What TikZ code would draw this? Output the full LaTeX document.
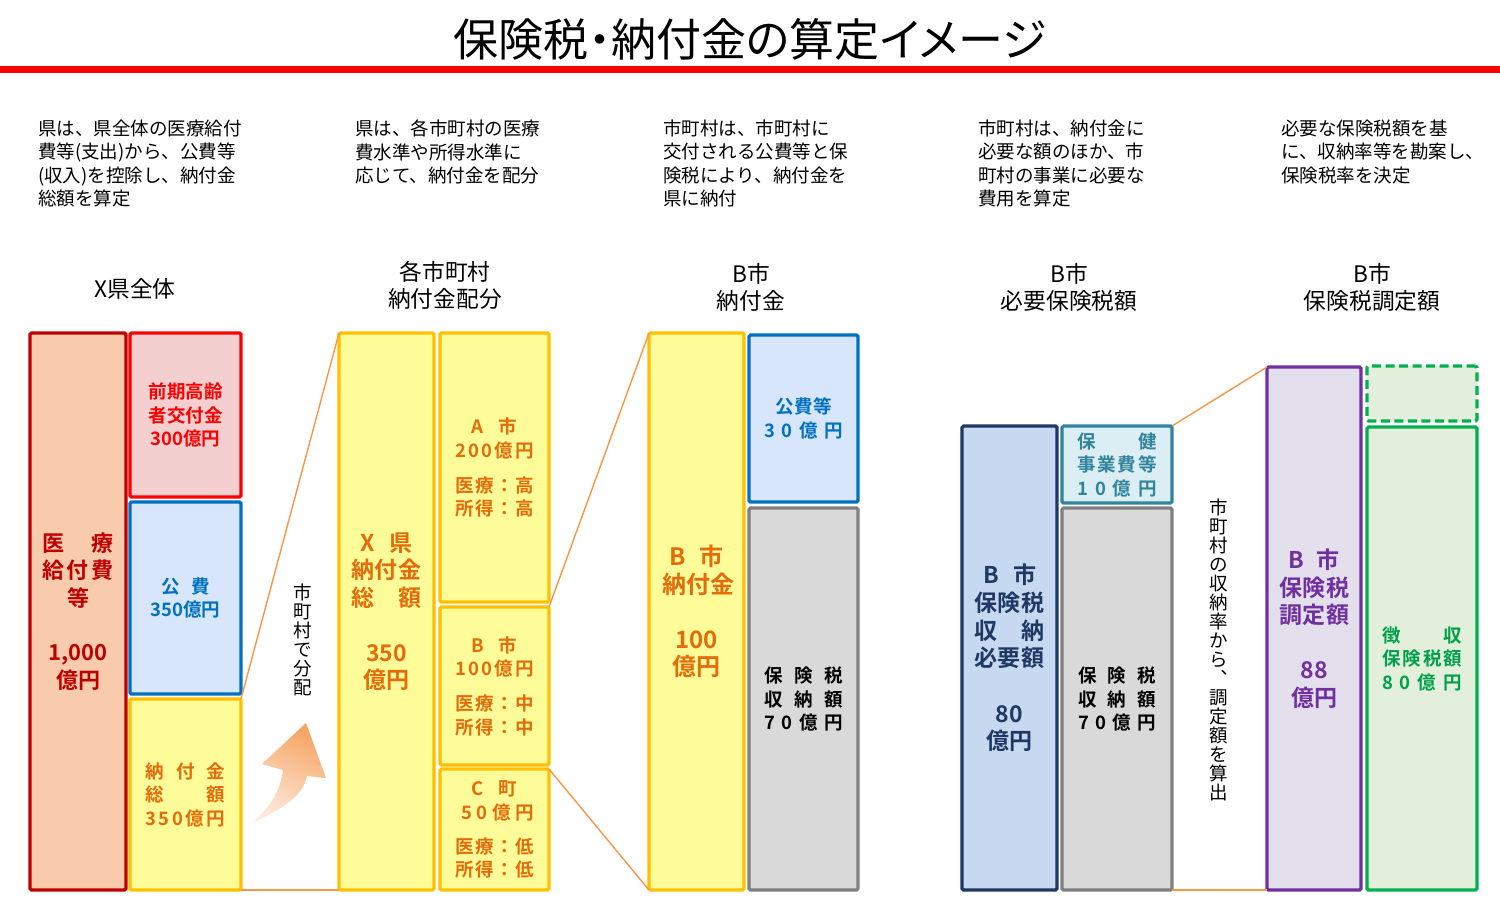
\documentclass[tikz,border=0pt]{standalone}
\usepackage{fontspec}
\setmainfont{Noto Sans CJK JP}[BoldFont={Noto Sans CJK JP Bold}]
\newfontfamily\pj{Noto Sans CJK JP}[RawFeature=+palt]
\usetikzlibrary{shadings}
\definecolor{peach}{HTML}{F8CBAD}
\definecolor{dred}{HTML}{C00000}
\definecolor{pinkfill}{HTML}{F3CFD0}
\definecolor{bred}{HTML}{FF0000}
\definecolor{bluefill}{HTML}{D7E6FA}
\definecolor{bblue}{HTML}{0070C0}
\definecolor{yfill}{HTML}{FEFB99}
\definecolor{yborder}{HTML}{FFC000}
\definecolor{otext}{HTML}{E46C0A}
\definecolor{gfill}{HTML}{D9D9D9}
\definecolor{gborder}{HTML}{7F7F7F}
\definecolor{navyfill}{HTML}{C6D9F0}
\definecolor{navy}{HTML}{1F3864}
\definecolor{tealfill}{HTML}{DBEEF3}
\definecolor{teal}{HTML}{31849B}
\definecolor{purfill}{HTML}{E4DFEC}
\definecolor{pur}{HTML}{7030A0}
\definecolor{grnfill}{HTML}{E2EFDA}
\definecolor{grn}{HTML}{00B050}
\definecolor{grntext}{HTML}{00A04A}
\definecolor{conn}{HTML}{F79646}
\definecolor{arrowdark}{HTML}{F5A462}
\definecolor{arrowlight}{HTML}{FDEADC}
\newcommand\fsz[2]{\fontsize{#1}{#2}\selectfont}
\newcommand\jst[2]{\makebox[#1pt][s]{#2}}
\newcommand\hf{\hfill}
\newcommand\boxnode[7]{\node[#6, minimum width={#4-#2}, minimum height={#5-#3}] (#1) at ({(#2+#4)/2},{(#3+#5)/2}) {#7};}
\begin{document}
\begin{tikzpicture}[x=1pt,y=-1pt,
  bx/.style={draw, line width=3.2pt, rounded corners=1.5pt, inner sep=0pt, outer sep=0pt, align=center},
  small/.style={font=\fsz{18.5}{23.5}\bfseries},
  big/.style={font=\fsz{23}{27.5}\bfseries},
  yel/.style={bx, fill=yfill, draw=yborder, text=otext},
  gry/.style={bx, fill=gfill, draw=gborder, text=black, small},
  desc/.style={anchor=west, align=left, inner sep=0pt, font=\fsz{18.5}{23.5}},
  head/.style={align=center, inner sep=0pt, font=\fsz{22.7}{27}},
  vtext/.style={align=center, inner sep=0pt, font=\fsz{18.5}{19}},
  connline/.style={draw=conn, line width=1.4pt}]
\useasboundingbox (0,0) rectangle (1500,900);
% title
\node[inner sep=0pt, font=\pj\fsz{45}{48}] (title) at (750,39) {保険税・納付金の算定イメージ};
\fill[bred] (0,66) rectangle (1500,73);
% descriptions
\node[desc] (d1) at (38,163.5) {県は、県全体の医療給付\\費等(支出)から、公費等\\(収入)を控除し、納付金\\総額を算定};
\node[desc] (d2) at (355,152) {県は、各市町村の医療\\費水準や所得水準に\\応じて、納付金を配分};
\node[desc] (d3) at (663,163.5) {市町村は、市町村に\\交付される公費等と保\\険税により、納付金を\\県に納付};
\node[desc] (d4) at (978,163.5) {市町村は、納付金に\\必要な額のほか、市\\町村の事業に必要な\\費用を算定};
\node[desc] (d5) at (1281,152) {必要な保険税額を基\\に、収納率等を勘案し、\\保険税率を決定};
% headings
\node[head] (h1) at (135,289) {X県全体};
\node[head] (h2) at (445,285.5) {各市町村\\納付金配分};
\node[head] (h3) at (751,287) {B市\\納付金};
\node[head] (h4) at (1069,287) {B市\\必要保険税額};
\node[head] (h5) at (1372,287) {B市\\保険税調定額};
% column 1
\boxnode{iryo}{30}{333}{126}{890}{bx, fill=peach, draw=dred, text=dred, font=\fsz{22}{27.3}\bfseries}{\jst{71}{医\hf 療}\\\jst{71}{給\hf 付\hf 費}\\等\\[27.3pt]1,000\\億円}
\boxnode{zenki}{130}{333}{241}{497}{bx, fill=pinkfill, draw=bred, text=bred, small}{前期高齢\\者交付金\\300億円}
\boxnode{kohi}{130}{502}{241}{694}{bx, fill=bluefill, draw=bblue, text=bblue, small}{\jst{49}{公\hf 費}\\350億円}
\boxnode{nofu}{130}{699}{241}{890}{yel, small}{\jst{80}{納\hf 付\hf 金}\\\jst{80}{総\hf 額}\\\jst{80}{3\hf 5\hf 0\hf 億\hf 円}}
% column 2
\boxnode{xken}{339}{333}{434}{890}{yel, big}{\jst{53}{X\hf 県}\\\jst{70}{納\hf 付\hf 金}\\\jst{70}{総\hf 額}\\[27.5pt]350\\億円}
\boxnode{ashi}{440}{333}{549}{602}{yel, small}{\jst{46}{A\hf 市}\\\jst{79}{2\hf 0\hf 0\hf 億\hf 円}\\[11.5pt]\jst{79}{医\hf 療\hf ：\hf 高}\\\jst{79}{所\hf 得\hf ：\hf 高}}
\boxnode{bshi}{440}{607}{549}{765}{yel, small}{\jst{46}{B\hf 市}\\\jst{79}{1\hf 0\hf 0\hf 億\hf 円}\\[11.5pt]\jst{79}{医\hf 療\hf ：\hf 中}\\\jst{79}{所\hf 得\hf ：\hf 中}}
\boxnode{cmachi}{440}{769}{549}{890}{yel, small}{\jst{46}{C\hf 町}\\\hspace*{6pt}\jst{73}{5\hf 0\hf 億\hf 円}\\[10.5pt]\jst{79}{医\hf 療\hf ：\hf 低}\\\jst{79}{所\hf 得\hf ：\hf 低}}
% column 3
\boxnode{bnofu}{649}{333}{744}{890}{yel, font=\fsz{24}{27.5}\bfseries}{\jst{55}{B\hf 市}\\\jst{68}{納\hf 付\hf 金}\\[27.5pt]100\\億円}
\boxnode{kohi2}{749}{335}{858}{502}{bx, fill=bluefill, draw=bblue, text=bblue, small}{\jst{56}{公\hf 費\hf 等}\\\jst{78}{3\hf 0\hf 億\hf 円}}
\boxnode{gray1}{749}{508}{858}{890}{gry}{\jst{78}{保\hf 険\hf 税}\\\jst{78}{収\hf 納\hf 額}\\\jst{78}{7\hf 0\hf 億\hf 円}}
% column 4
\boxnode{hitsuyo}{962}{426}{1057}{890}{bx, fill=navyfill, draw=navy, text=navy, font=\fsz{23}{27.7}\bfseries}{\jst{53}{B\hf 市}\\\jst{70}{保\hf 険\hf 税}\\\jst{70}{収\hf 納}\\\jst{70}{必\hf 要\hf 額}\\[27.7pt]80\\億円}
\boxnode{hoken}{1062}{426}{1172}{503}{bx, fill=tealfill, draw=teal, text=teal, small}{\jst{79}{保\hf 健}\\\jst{79}{事\hf 業\hf 費\hf 等}\\\jst{79}{1\hf 0\hf 億\hf 円}}
\boxnode{gray2}{1062}{508}{1172}{890}{gry}{\jst{78}{保\hf 険\hf 税}\\\jst{78}{収\hf 納\hf 額}\\\jst{78}{7\hf 0\hf 億\hf 円}}
% column 5
\boxnode{chotei}{1267}{367}{1361}{890}{bx, fill=purfill, draw=pur, text=pur, font=\fsz{23}{27.5}\bfseries}{\jst{52}{B\hf 市}\\\jst{70}{保\hf 険\hf 税}\\\jst{70}{調\hf 定\hf 額}\\[27.5pt]88\\億円}
\boxnode{dash}{1367}{366}{1477}{421}{bx, fill=grnfill, draw=grn, dash pattern=on 9pt off 4.5pt}{}
\boxnode{choshu}{1367}{427}{1477}{890}{bx, fill=grnfill, draw=grn, text=grntext, small}{\jst{80}{徴\hf 収}\\\jst{80}{保\hf 険\hf 税\hf 額}\\\jst{80}{8\hf 0\hf 億\hf 円}}
% connectors
\draw[connline] (nofu.north east) -- (xken.north west);
\draw[connline] (nofu.south east) -- (xken.south west);
\draw[connline] (bshi.north east) -- (bnofu.north west);
\draw[connline] (cmachi.north east) -- (bnofu.south west);
\draw[connline] (hoken.north east) -- (chotei.north west);
\draw[connline] (gray2.south east) -- (chotei.south west);
% vertical texts
\node[vtext] (v1) at (303,640) {市\\町\\村\\で\\分\\配};
\node[vtext] (v2) at (1219,650) {市\\町\\村\\の\\収\\納\\率\\か\\ら\\︑\\調\\定\\額\\を\\算\\出};
% curved arrow
\shade[top color=arrowdark, bottom color=arrowlight, shading angle=-25]
  (252,823) .. controls (285,808) and (303,795) .. (307,776)
  -- (326,778) -- (306,723) -- (262,764) -- (283,770)
  .. controls (280,795) and (265,812) .. (252,823) -- cycle;
\end{tikzpicture}
\end{document}
